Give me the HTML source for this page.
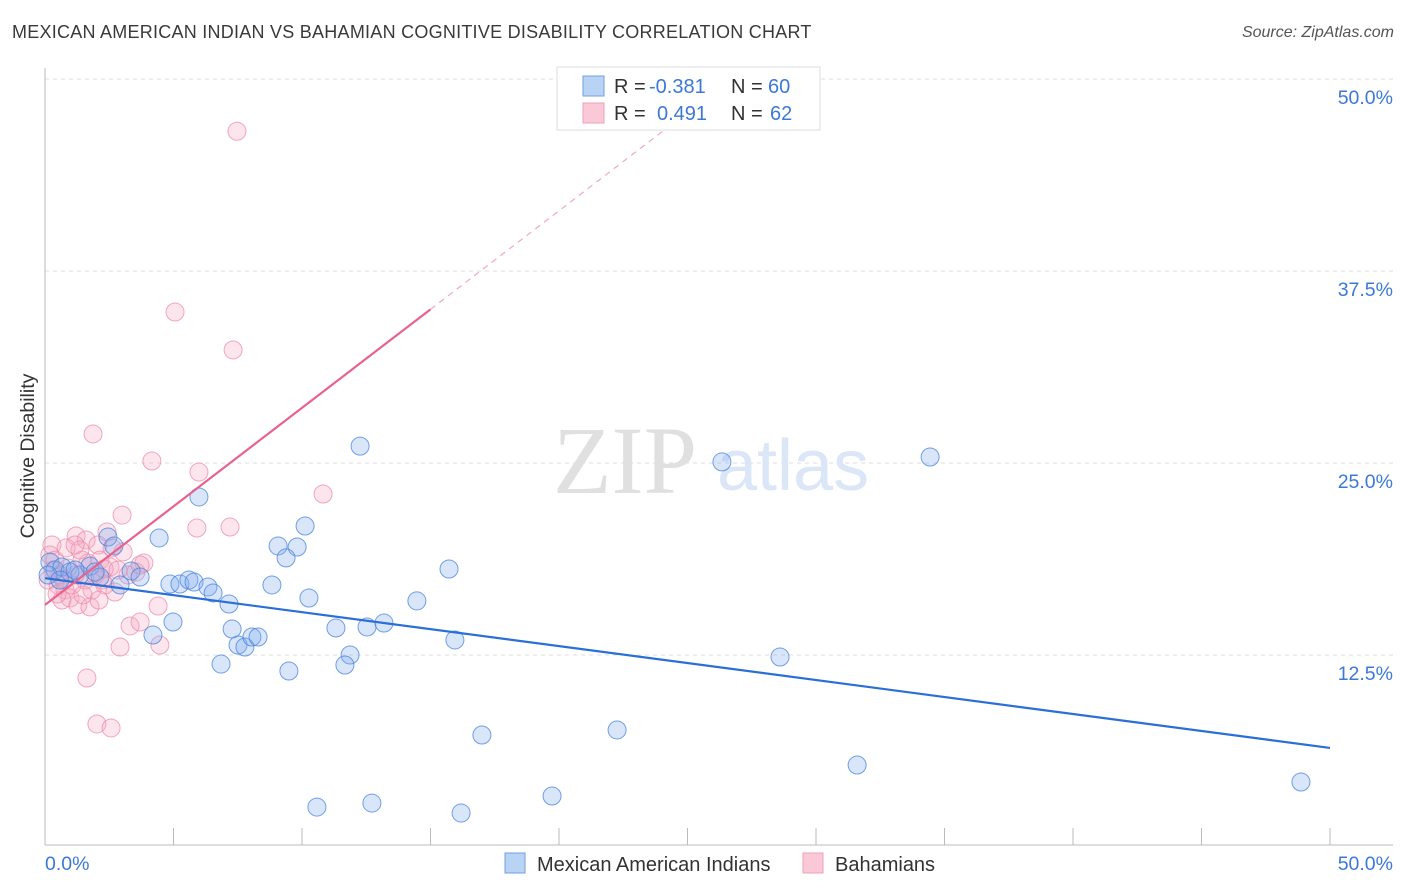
<!DOCTYPE html>
<html><head><meta charset="utf-8">
<style>
body{margin:0;background:#fff;font-family:"Liberation Sans",sans-serif;}
#wrap{position:relative;width:1406px;height:892px;overflow:hidden;}
.t{position:absolute;white-space:nowrap;}
</style></head><body>
<div id="wrap">
<div class="t" style="left:12px;top:22px;font-size:18px;letter-spacing:0.25px;color:#3a3a3a;">MEXICAN AMERICAN INDIAN VS BAHAMIAN COGNITIVE DISABILITY CORRELATION CHART</div>
<div class="t" style="right:12px;top:24px;font-size:16px;color:#555;font-style:italic;">Source: ZipAtlas.com</div>
<svg id="svg" width="1406" height="892" style="position:absolute;left:0;top:0"></svg>
</div>
<script>
const seriesNames=["Mexican American Indians","Bahamians"];
const yTicks=[12.5,25,37.5,50];
const yTickLabels=["12.5%","25.0%","37.5%","50.0%"];
const blueX=[12.26,26.34,34.44,5.99,10.12,2.45,4.44,9.07,9.81,9.38,2.68,15.72,3.35,3.7,4.86,5.25,5.6,5.8,6.34,6.54,8.83,10.27,7.16,14.47,4.98,7.28,4.2,11.32,12.53,13.19,15.95,7.51,7.78,8.05,8.29,11.87,11.67,6.85,9.49,28.6,17.0,22.26,31.6,48.87,10.58,12.72,16.19,19.73,2.92,0.19,0.39,0.66,0.97,1.36,1.75,2.14,0.12,0.58,1.17,1.95];
const blueY=[26.1,25.07,25.39,22.79,20.9,20.18,20.12,19.6,19.53,18.82,19.6,18.1,17.97,17.58,17.12,17.12,17.38,17.25,16.93,16.54,17.06,16.21,15.82,16.02,14.65,14.19,13.8,14.26,14.32,14.58,13.48,13.15,13.02,13.67,13.67,12.5,11.85,11.91,11.46,12.37,7.29,7.62,5.34,4.23,2.6,2.86,2.21,3.32,17.06,18.55,18.03,18.23,17.9,17.71,18.29,17.58,17.71,17.38,18.03,17.9];
const pinkX=[7.47,5.06,7.32,1.87,4.16,5.99,10.82,3.0,5.91,7.2,1.21,2.41,1.6,2.06,3.04,3.85,2.53,2.22,0.27,0.19,0.31,0.12,0.51,0.78,0.97,1.28,1.75,0.66,1.56,1.95,2.33,2.72,3.23,3.54,1.67,2.14,1.17,0.89,0.58,4.4,3.31,3.7,4.47,2.92,1.63,2.02,2.57,1.44,1.05,0.39,0.82,2.61,1.36,1.83,2.3,2.84,0.47,1.17,3.7,0.74,1.48,2.1];
const pinkY=[46.6,34.83,32.36,26.89,25.13,24.41,22.98,21.61,20.77,20.83,20.25,20.51,19.99,19.66,19.21,18.49,18.23,17.38,19.66,19.01,18.03,17.38,17.06,16.73,16.21,15.76,15.63,16.08,17.38,17.71,17.06,16.6,17.71,17.9,18.49,18.68,17.71,18.16,17.71,15.69,14.39,14.65,13.15,13.02,11.0,8.01,7.75,18.68,17.06,18.68,19.47,19.47,19.34,16.73,18.1,18.03,16.47,19.66,18.36,17.38,16.41,16.08];
const blueTrend=[17.5,6.45];   // y at x=0, x=50
const pinkTrend=[15.76,1.283]; // intercept, slope
const stats=[["-0.381","60"],["0.491","62"]];

const NS="http://www.w3.org/2000/svg";
const svg=document.getElementById('svg');
const X0=45,X1=1330,YB=847,YT=79;
const sx=v=>X0+(X1-X0)*v/50;
const sy=v=>YB-(YB-YT)*v/50;
function mk(tag,attrs,parent){const e=document.createElementNS(NS,tag);for(const k in attrs)e.setAttribute(k,attrs[k]);(parent||svg).appendChild(e);return e;}

yTicks.forEach((t,i)=>{
  const g=mk('line',{x1:45,x2:1393,y1:sy(t),y2:sy(t),stroke:'#ddd','stroke-dasharray':'4,4'});
  
  
  const tx=mk('text',{x:1393,y:sy(t)+25,'text-anchor':'end','font-size':'19.5',fill:'#3c78d8','font-family':'Liberation Sans, sans-serif'});
  tx.textContent=yTickLabels[i];
  
  
});
const ax=mk('line',{x1:45,x2:1393,y1:845,y2:845,stroke:'#bbb'});


const ay=mk('line',{x1:45,x2:45,y1:68,y2:845,stroke:'#bbb'});


for(let i=1;i<=10;i++){
  const tk=mk('line',{x1:sx(i*5),x2:sx(i*5),y1:828,y2:845,stroke:'#bbb'});
  
  
}
const wm=mk('text',{x:553,y:493,'font-size':'96','font-family':'Liberation Serif, serif',fill:'#e0e0e0'});
wm.textContent='ZIP';


const wm2=mk('text',{x:717,y:490,'font-size':'72','font-family':'Liberation Sans, sans-serif',fill:'#dbe6f6'});
wm2.textContent='atlas';



function pts(xs,ys,fill,stroke,name){
  xs.forEach((x,i)=>{
    const c=mk('circle',{cx:sx(x),cy:sy(ys[i]),r:9,fill:fill,stroke:stroke,'stroke-width':1});
    
    
  });
}
pts(pinkX,pinkY,'rgba(245,170,195,0.3)','rgba(235,140,172,0.75)','bahamian-point');
pts(blueX,blueY,'rgba(130,172,238,0.3)','rgba(70,130,220,0.75)','mexican-american-indian-point');

const bl=mk('line',{x1:sx(0),y1:sy(blueTrend[0]),x2:sx(50),y2:sy(blueTrend[1]),stroke:'#2a6fd8','stroke-width':2.2});


const pEnd=15;
const pl=mk('line',{x1:sx(0),y1:sy(pinkTrend[0]),x2:sx(pEnd),y2:sy(pinkTrend[0]+pinkTrend[1]*pEnd),stroke:'#e8628e','stroke-width':2.2});


const xTop=(50-pinkTrend[0])/pinkTrend[1];
const pd=mk('line',{x1:sx(pEnd),y1:sy(pinkTrend[0]+pinkTrend[1]*pEnd),x2:sx(xTop),y2:sy(50),stroke:'#f0a8c0','stroke-width':1.2,'stroke-dasharray':'6,5'});



const xl0=mk('text',{x:45,y:870,'font-size':'19.5',fill:'#3c78d8','font-family':'Liberation Sans, sans-serif'});
xl0.textContent='0.0%';


const xl1=mk('text',{x:1393,y:870,'text-anchor':'end','font-size':'19.5',fill:'#3c78d8','font-family':'Liberation Sans, sans-serif'});
xl1.textContent='50.0%';


const yt=mk('text',{x:0,y:0,'font-size':'19.5',fill:'#333','text-anchor':'middle','font-family':'Liberation Sans, sans-serif',transform:'translate(34,456) rotate(-90)'});
yt.textContent='Cognitive Disability';



const lb=mk('rect',{x:557,y:67,width:263,height:63,fill:'#fff',stroke:'#ddd'});


const cols=[['#b9d3f5','#6f9fe0'],['#fbc8d8','#eda0ba']];
stats.forEach((s,i)=>{
  const y=76+i*27;
  const sw=mk('rect',{x:583,y:y,width:21,height:20,fill:cols[i][0],stroke:cols[i][1]});
  
  
  const t=mk('text',{x:614,y:y+17,'font-size':'20','font-family':'Liberation Sans, sans-serif',fill:'#333'});
  t.innerHTML='R = <tspan fill="#3c78d8" x="'+(i==0?649:657)+'">'+s[0]+'</tspan><tspan x="731" fill="#333">N = </tspan><tspan fill="#3c78d8" x="'+(i==0?768:770)+'">'+s[1]+'</tspan>';
  
  
});
[[505,537],[803,835]].forEach((p,i)=>{
  const sw=mk('rect',{x:p[0],y:853,width:20,height:20,fill:cols[i][0],stroke:cols[i][1]});
  
  
  const t=mk('text',{x:p[1],y:871,'font-size':'20','font-family':'Liberation Sans, sans-serif',fill:'#333'});
  t.textContent=seriesNames[i];
  
  
});
</script>
</body></html>
